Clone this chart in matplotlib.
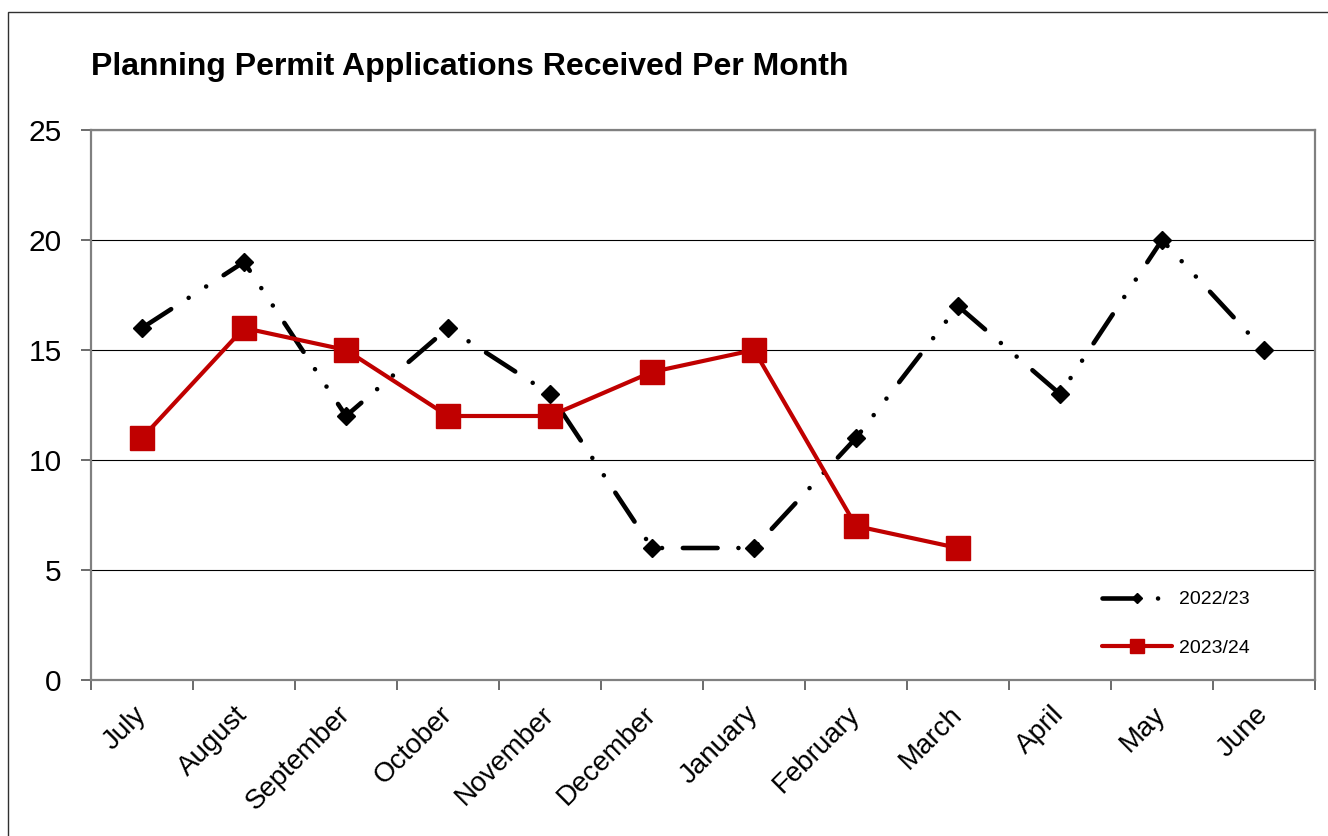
import matplotlib.pyplot as plt
from matplotlib.patches import Rectangle
import matplotlib.transforms as mtransforms

plt.rcParams['font.family'] = ['Liberation Sans', 'DejaVu Sans']
plt.rcParams['lines.scale_dashes'] = False

months = ["July", "August", "September", "October", "November", "December",
          "January", "February", "March", "April", "May", "June"]
apps_2022_23 = [16, 19, 12, 16, 13, 6, 6, 11, 17, 13, 20, 15]
apps_2023_24 = [11, 16, 15, 12, 12, 14, 15, 7, 6]
yticks = [0, 5, 10, 15, 20, 25]

W, H = 1328, 836
fig = plt.figure(figsize=(W / 100, H / 100), dpi=100)
ax = fig.add_axes([91 / W, 1 - 680 / H, (1315 - 91) / W, (680 - 130) / H])

# outer chart border
fig.add_artist(Rectangle((8 / W, -0.2), 1.2, 1.2 - 12 / H, transform=fig.transFigure,
                         fill=False, edgecolor='#303030', lw=1.0))

fig.text(91 / W, 1 - 75 / H, "Planning Permit Applications Received Per Month",
         fontsize=23, fontweight='bold', ha='left', va='baseline')

x1 = list(range(len(apps_2022_23)))
x2 = list(range(len(apps_2023_24)))

ax.plot(x1, apps_2022_23, color='black', lw=3.3,
        linestyle=(0, (25, 15, 0.01, 15, 0.01, 15)), dash_capstyle='round',
        marker='D', markersize=9.5, markerfacecolor='black', markeredgecolor='black',
        label='2022/23', zorder=3)
ax.plot(x2, apps_2023_24, color='#C00000', lw=3, solid_capstyle='round',
        marker='s', markersize=17.5, markerfacecolor='#C00000', markeredgecolor='#C00000',
        label='2023/24', zorder=4)

ax.set_xlim(-0.5, 11.5)
ax.set_ylim(0, 25)
ax.set_yticks(yticks)
ax.set_yticklabels([str(v) for v in yticks], fontsize=21.5)
ax.yaxis.grid(True, color='black', lw=0.8)
ax.set_axisbelow(True)

ax.set_xticks(range(12))
ax.set_xticklabels(months, fontsize=20, rotation=45, ha='right', va='center',
                   rotation_mode='anchor')
ax.set_xticks([i - 0.5 for i in range(13)], minor=True)
ax.tick_params(axis='x', which='major', length=0, pad=22)
ax.tick_params(axis='x', which='minor', length=7, width=1.3, color='#606060', direction='out')
ax.tick_params(axis='y', length=7, width=1.3, color='#606060', direction='out', pad=14)

offset = mtransforms.ScaledTranslation(0, 0, fig.dpi_scale_trans)
for lab in ax.get_xticklabels():
    lab.set_transform(lab.get_transform() + offset)

for s in ax.spines.values():
    s.set_color('#808080')
    s.set_linewidth(1.6)

ax.legend(loc='center left', bbox_to_anchor=(1102 / W, 1 - 624 / H),
          bbox_transform=fig.transFigure, frameon=False, fontsize=14,
          handlelength=3.6, handletextpad=0.36, labelspacing=1.6,
          borderpad=0, borderaxespad=0, numpoints=1, markerscale=0.55)

fig.savefig("out.png", dpi=100)
